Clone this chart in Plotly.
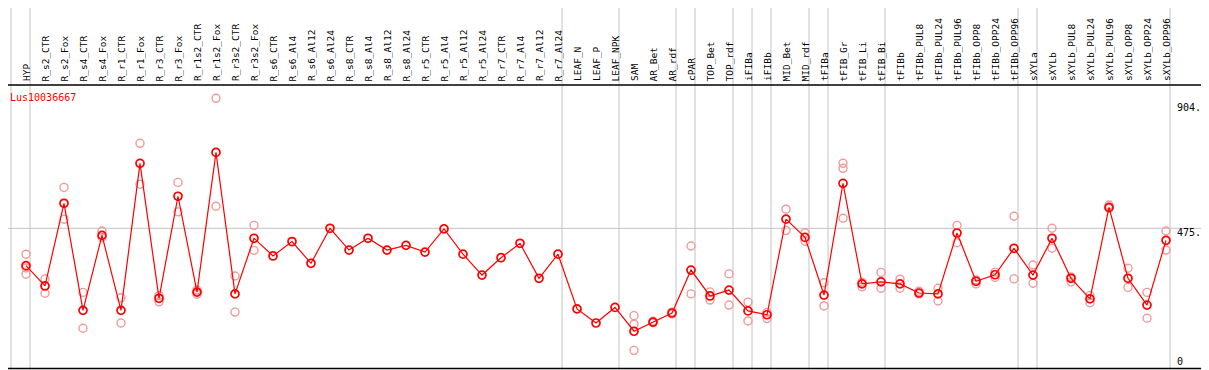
import plotly.graph_objects as go

categories = [
    "HYP", "R_s2_CTR", "R_s2_Fox", "R_s4_CTR", "R_s4_Fox", "R_r1_CTR", "R_r1_Fox",
    "R_r3_CTR", "R_r3_Fox", "R_r1s2_CTR", "R_r1s2_Fox", "R_r3s2_CTR", "R_r3s2_Fox",
    "R_s6_CTR", "R_s6_Al4", "R_s6_Al12", "R_s6_Al24", "R_s8_CTR", "R_s8_Al4",
    "R_s8_Al12", "R_s8_Al24", "R_r5_CTR", "R_r5_Al4", "R_r5_Al12", "R_r5_Al24",
    "R_r7_CTR", "R_r7_Al4", "R_r7_Al12", "R_r7_Al24", "LEAF_N", "LEAF_P", "LEAF_NPK",
    "SAM", "AR_Bet", "AR_rdf", "cPAR", "TOP_Bet", "TOP_rdf", "iFIBa", "iFIBb",
    "MID_Bet", "MID_rdf", "tFIBa", "tFIB_Gr", "tFIB_Li", "tFIB_Bi", "tFIBb",
    "tFIBb_PUL8", "tFIBb_PUL24", "tFIBb_PUL96", "tFIBb_OPP8", "tFIBb_OPP24",
    "tFIBb_OPP96", "sXYLa", "sXYLb", "sXYLb_PUL8", "sXYLb_PUL24", "sXYLb_PUL96",
    "sXYLb_OPP8", "sXYLb_OPP24", "sXYLb_OPP96",
]

mean_values = [
    348, 279, 560, 196, 451, 196, 696, 237, 584, 258, 733, 252, 441,
    381, 430, 356, 475, 401, 441, 401, 417, 394, 473, 387, 316, 375, 424, 305, 387,
    201, 153, 206, 125, 156, 187, 333, 245, 265, 194, 181, 506, 444, 248, 628,
    286, 293, 286, 255, 252, 459, 295, 317, 407, 316, 441, 305, 235, 546, 305,
    214, 434,
]

N = None
rep1 = [387, 303, 614, 257, 466, 239, 764, 246, 631, 265, 917, 313, 485,
        N, N, N, N, N, N, N, N, N, N, N, N, N, N, N, N, N, N, N,
        178, 159, 190, 415, 259, 320, 224, 189, 540, 460, 290, 696,
        292, 325, 302, 261, 271, 485, 299, 326, 516, 350, 475, 310, 246, 554, 339,
        257, 466]
rep2 = [319, 254, 506, 135, 444, 153, 625, 225, 531, 251, 550, 190, 400,
        N, N, N, N, N, N, N, N, N, N, N, N, N, N, N, N, N, N, N,
        60, 154, 184, 252, 231, 214, 160, 168, 468, 431, 211, 509,
        276, 271, 271, 252, 228, 426, 286, 308, 303, 288, 407, 293, 222, 543, 274,
        169, 401]
rep3 = [340, N, N, N, N, N, N, N, N, N, N, N, N,
        N, N, N, N, N, N, N, N, N, N, N, N, N, N, N, N, N, N, N,
        149, N, N, N, N, N, N, N, N, N, N, 679,
        N, N, N, N, N, N, N, N, N, N, N, N, N, N, N,
        N, N]

group_starts = [0, 1, 29, 32, 35, 36, 38, 39, 40, 42, 43, 46, 53, 54, 61]
gene_name = "Lus10036667"
axis_ticks = [904.9, 475.0, 0]
axis_tick_labels = ["904.9", "475.0", "0"]

OFF = 8                       # page body margin of the html page
W, H = 1209 - OFF, 370 - OFF
X0, DX = 26.0 - OFF, 19.0     # pixel of first category, pixel step
Y0, SY = 368.0 - OFF, 0.2941  # pixel of value 0, pixels per unit

x_idx = list(range(len(categories)))

fig = go.Figure()
light = "#f29a9a"
for rep in (rep1, rep2, rep3):
    fig.add_trace(go.Scatter(
        x=x_idx, y=rep, mode="markers",
        marker=dict(symbol="circle-open", size=8, color=light, line=dict(width=1.4, color=light)),
        hoverinfo="skip", showlegend=False))

fig.add_trace(go.Scatter(
    x=x_idx, y=mean_values, mode="lines+markers",
    line=dict(color="#ff0000", width=1.2),
    marker=dict(symbol="circle-open", size=8, color="#ff0000", line=dict(width=1.7, color="#ff0000")),
    showlegend=False))


def px(v):
    return (v - OFF) / W


def py(v):
    return 1 - (v - OFF) / H


shapes = []
gray = "#c4c4c4"
for g in group_starts:
    shapes.append(dict(type="line", xref="x", yref="paper", x0=g - 15 / 19, x1=g - 15 / 19,
                       y0=0, y1=1, line=dict(color=gray, width=1), layer="below"))
shapes.append(dict(type="line", xref="paper", yref="y", x0=0, x1=px(1207.5),
                   y0=axis_ticks[1], y1=axis_ticks[1], line=dict(color=gray, width=1), layer="below"))
blk = dict(color="black", width=1.5)
shapes += [
    dict(type="line", xref="paper", yref="paper", x0=px(1207.5), x1=px(1207.5), y0=1, y1=py(368.5), line=blk),
    dict(type="line", xref="paper", yref="paper", x0=0, x1=px(1207.5), y0=py(85), y1=py(85), line=blk),
    dict(type="line", xref="paper", yref="paper", x0=0, x1=px(1207.5), y0=py(368.5), y1=py(368.5), line=blk),
]

mono = "DejaVu Sans Mono"
annotations = []
for i, c in enumerate(categories):
    annotations.append(dict(text=c, x=i, xref="x", y=py(83.5), yref="paper",
                            xanchor="center", yanchor="bottom", textangle=-90, showarrow=False,
                            font=dict(family=mono, size=9.5, color="black")))
annotations.append(dict(text=gene_name, x=px(8), y=py(97), xref="paper", yref="paper",
                        xanchor="left", yanchor="middle", showarrow=False,
                        font=dict(family=mono, size=10, color="#ff0000")))
label_y = [107.3, 232.3, 361.7]
for k, lab in enumerate(axis_tick_labels):
    annotations.append(dict(text=lab, x=px(1175), y=py(label_y[k]), xref="paper", yref="paper",
                            xanchor="left", yanchor="middle", showarrow=False,
                            font=dict(family=mono, size=10, color="black")))

fig.update_layout(
    width=W, height=H,
    margin=dict(l=0, r=0, t=0, b=0, pad=0),
    paper_bgcolor="white", plot_bgcolor="white",
    xaxis=dict(range=[-X0 / DX, (W - X0) / DX], visible=False, fixedrange=True),
    yaxis=dict(range=[(Y0 - H) / SY, Y0 / SY], visible=False, fixedrange=True),
    shapes=shapes, annotations=annotations,
)

fig.write_html("out.html")
